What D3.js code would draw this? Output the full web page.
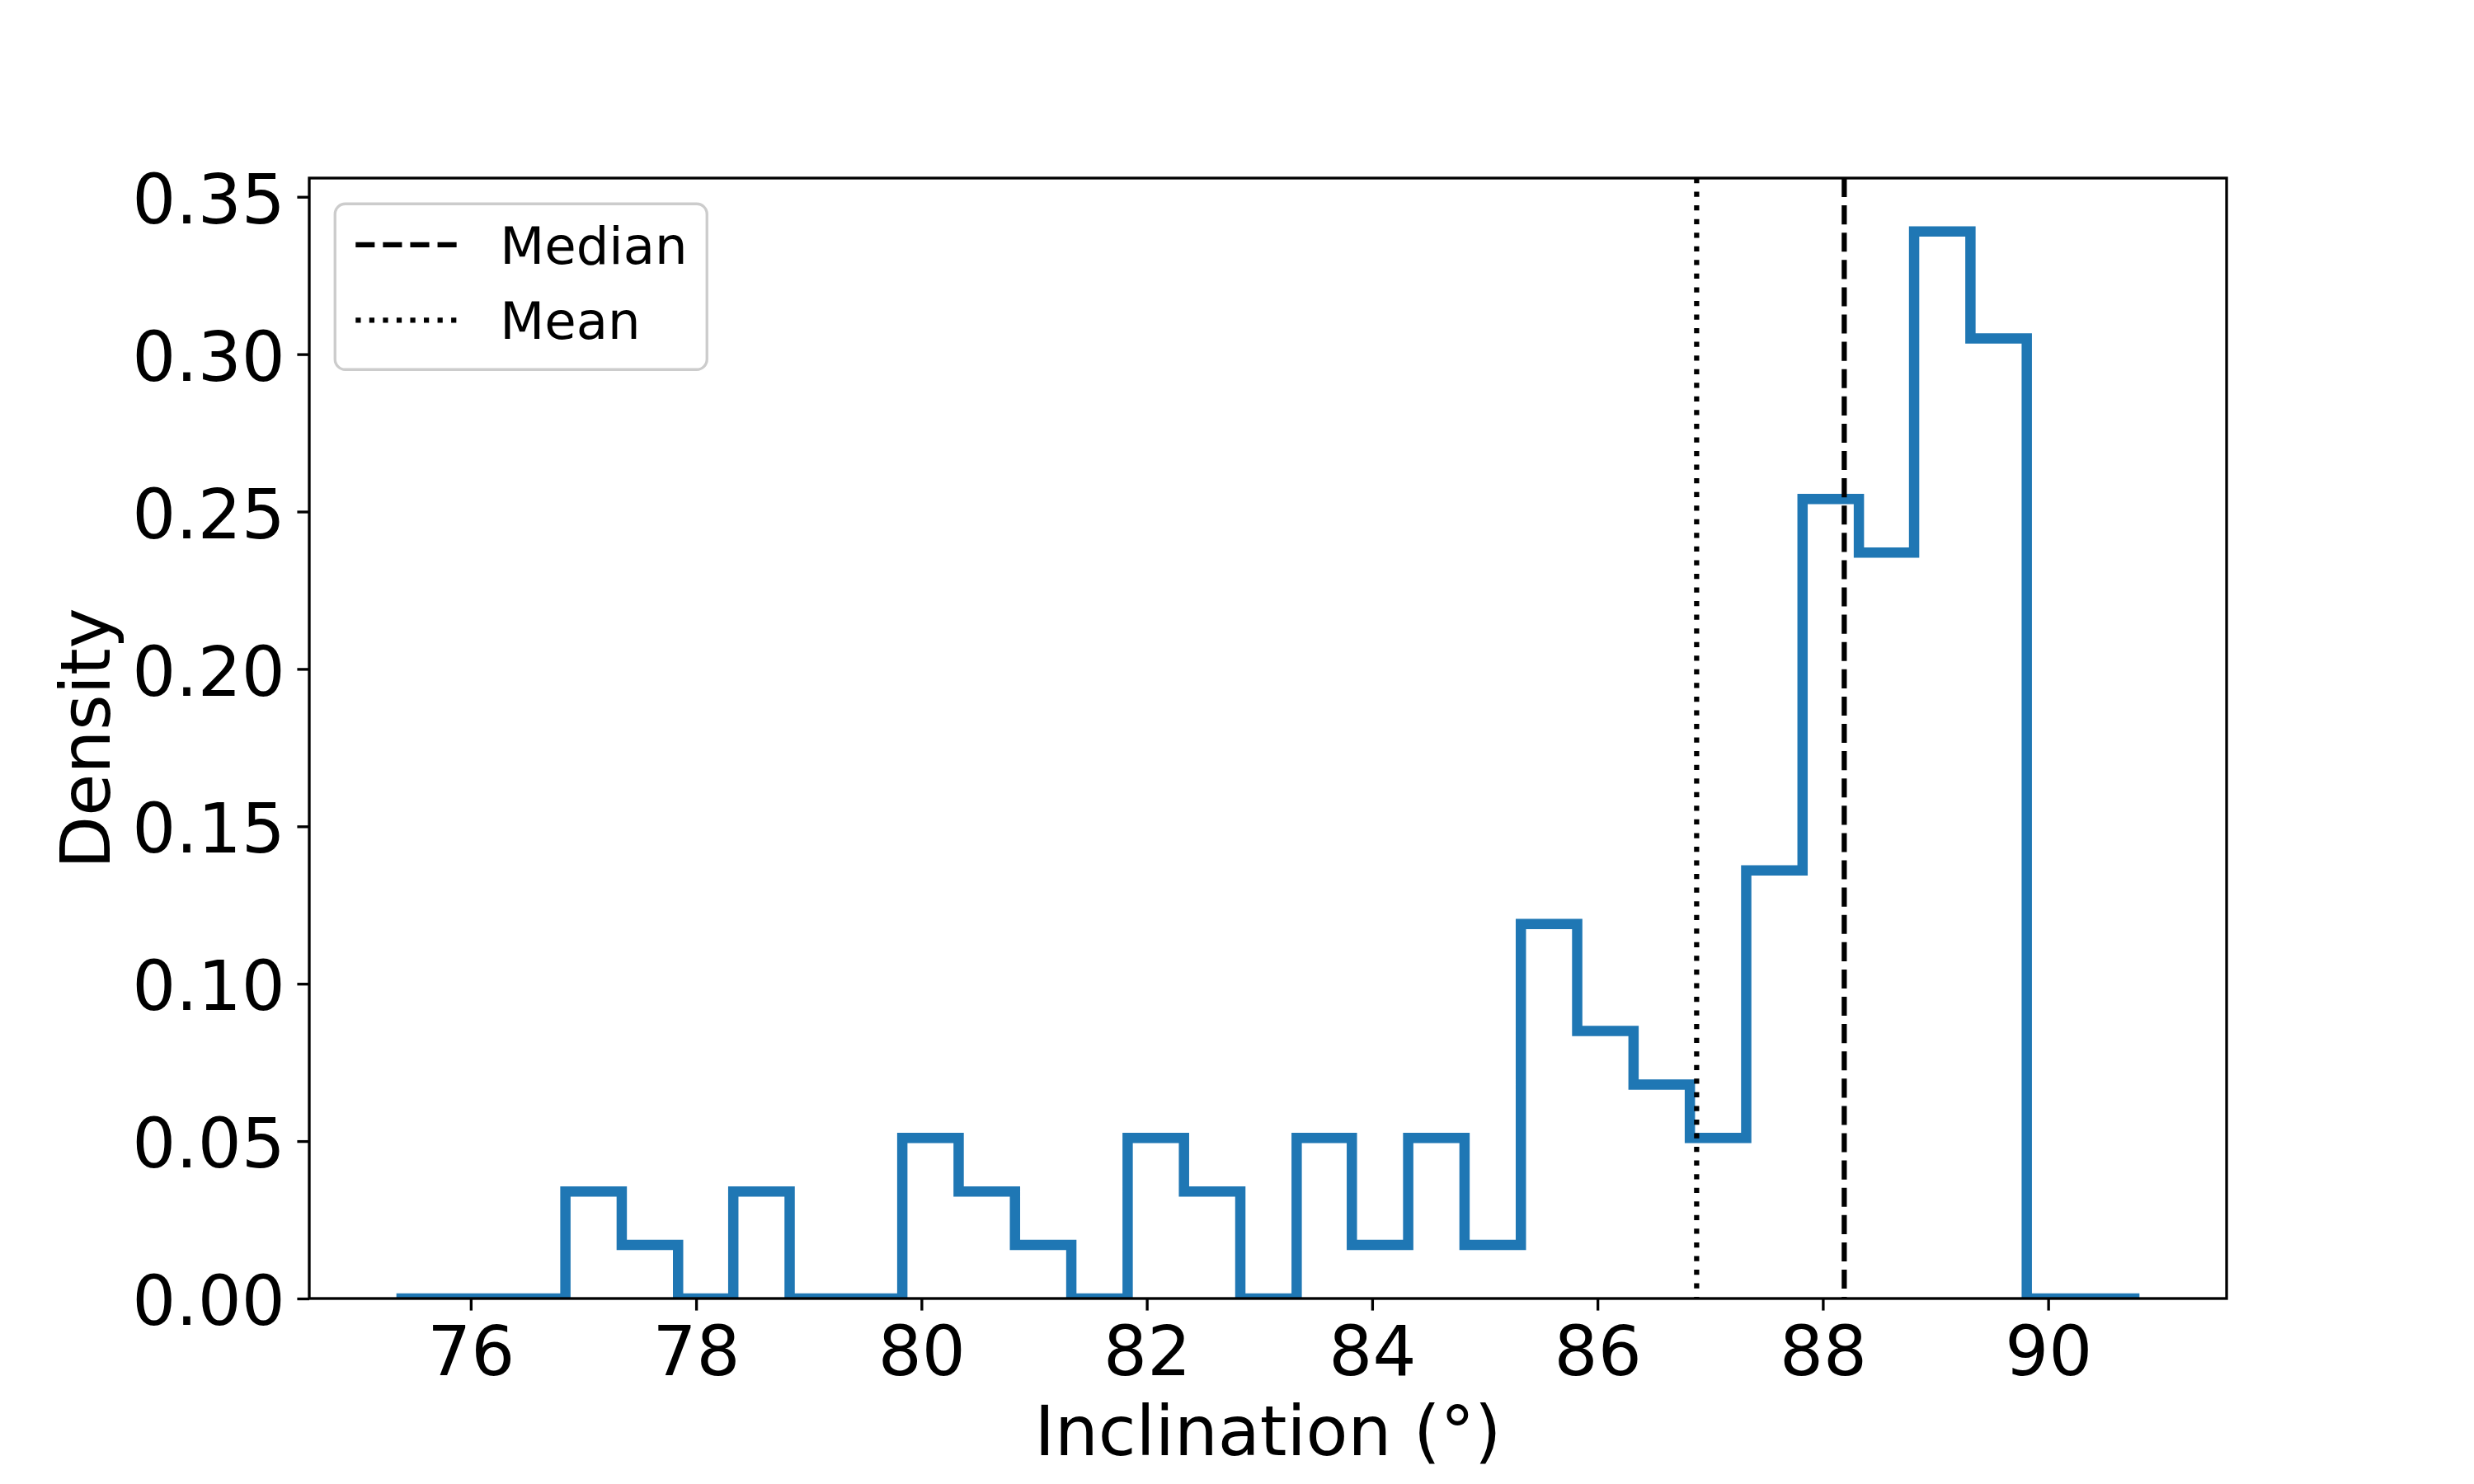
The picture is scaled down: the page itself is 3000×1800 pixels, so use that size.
<!DOCTYPE html>
<html>
<head>
<meta charset="utf-8">
<script src="https://cdn.jsdelivr.net/npm/d3@7"></script>
<style>
  body { margin: 0; background: #fff; }
  text { font-family: "DejaVu Sans", sans-serif; fill: #000; }
</style>
</head>
<body>
<div id="chart"></div>
<script>
// histogram bin edges (degrees) and density per bin
const binEdges = [75.34, 75.84, 76.34, 76.84, 77.34, 77.84, 78.33, 78.83, 79.33, 79.83,
  80.33, 80.83, 81.33, 81.83, 82.33, 82.83, 83.33, 83.82, 84.32, 84.82,
  85.32, 85.82, 86.32, 86.82, 87.32, 87.82, 88.32, 88.81, 89.31, 89.81,
  90.31, 90.81];
const density = [0, 0, 0, 0.034, 0.017, 0, 0.034, 0, 0, 0.051,
  0.034, 0.017, 0, 0.051, 0.034, 0, 0.051, 0.017, 0.051, 0.017,
  0.119, 0.085, 0.068, 0.051, 0.136, 0.254, 0.237, 0.339, 0.305, 0,
  0];
const meanValue = 86.88;
const medianValue = 88.19;
const xTicks = [76, 78, 80, 82, 84, 86, 88, 90];
const yTicks = [0, 0.05, 0.10, 0.15, 0.20, 0.25, 0.30, 0.35];
const legendItems = [
  { label: "Median", dash: "23.1,10" },
  { label: "Mean", dash: "6.25,10.3" }
];

const W = 3000, H = 1800;
const margin = { top: 216, right: 300, bottom: 225, left: 375 };
const pw = W - margin.left - margin.right;
const ph = H - margin.top - margin.bottom;

const pt = 300 / 72;          // matplotlib points -> px at 300 dpi
const fs = 20 * pt;           // tick / axis label size
const legendFs = 15 * pt;

const svg = d3.select("#chart").append("svg")
    .attr("width", W)
    .attr("height", H);

const g = svg.append("g")
    .attr("transform", `translate(${margin.left},${margin.top})`);

const lo = binEdges[0], hi = binEdges[binEdges.length - 1];
const pad = (hi - lo) * 0.05;
const x = d3.scaleLinear().domain([lo - pad, hi + pad]).range([0, pw]);
const y = d3.scaleLinear().domain([0, d3.max(density) * 1.05]).range([ph, 0]);

g.append("clipPath").attr("id", "clip")
  .append("rect").attr("width", pw).attr("height", ph);

// step outline
const pts = [[binEdges[0], 0]];
density.forEach((d, i) => {
    pts.push([binEdges[i], d]);
    pts.push([binEdges[i + 1], d]);
});
pts.push([hi, 0]);

const line = d3.line().x(d => x(d[0])).y(d => y(d[1]));

g.append("path")
    .datum(pts)
    .attr("clip-path", "url(#clip)")
    .attr("d", line)
    .attr("fill", "none")
    .attr("stroke", "#1f77b4")
    .attr("stroke-width", 3 * pt)
    .attr("stroke-linejoin", "miter");

// median / mean lines
[[medianValue, legendItems[0].dash], [meanValue, legendItems[1].dash]].forEach(([v, dash]) => {
    g.append("line")
        .attr("x1", x(v)).attr("x2", x(v))
        .attr("y1", 0).attr("y2", ph)
        .attr("stroke", "#000")
        .attr("stroke-width", 1.5 * pt)
        .attr("stroke-dasharray", dash);
});

// axes
const xAxis = g.append("g")
    .attr("transform", `translate(0,${ph})`)
    .call(d3.axisBottom(x).tickValues(xTicks).tickSize(3.5 * pt).tickSizeOuter(0).tickPadding(3.5 * pt));
const yAxis = g.append("g")
    .call(d3.axisLeft(y).tickValues(yTicks).tickFormat(d3.format(".2f"))
        .tickSize(3.5 * pt).tickSizeOuter(0).tickPadding(3.5 * pt));

[xAxis, yAxis].forEach(a => {
    a.select(".domain").remove();
    a.selectAll("line").attr("stroke", "#000").attr("stroke-width", 0.8 * pt);
    a.selectAll("text").attr("font-size", fs).attr("font-family", "DejaVu Sans");
});
xAxis.selectAll("text").attr("dy", "0.77em");
yAxis.selectAll("text").attr("dy", "0.38em");

// spines
g.append("rect")
    .attr("width", pw).attr("height", ph)
    .attr("fill", "none")
    .attr("stroke", "#000")
    .attr("stroke-width", 0.8 * pt);

// axis labels
svg.append("text")
    .attr("x", margin.left + pw / 2)
    .attr("y", 1765)
    .attr("text-anchor", "middle")
    .attr("font-size", fs)
    .text("Inclination (°)");

svg.append("text")
    .attr("transform", `translate(133,${margin.top + ph / 2}) rotate(-90)`)
    .attr("text-anchor", "middle")
    .attr("font-size", fs)
    .text("Density");

// legend
const lg = g.append("g").attr("transform", `translate(${0.5 * legendFs},${0.5 * legendFs})`);
lg.append("rect")
    .attr("width", 451).attr("height", 201)
    .attr("rx", 0.2 * legendFs)
    .attr("fill", "#fff").attr("fill-opacity", 0.8)
    .attr("stroke", "#cccccc").attr("stroke-width", 0.8 * pt);

const rowY = [49.5, 141];
legendItems.forEach((d, i) => {
    lg.append("line")
        .attr("x1", 0.4 * legendFs).attr("x2", 2.4 * legendFs)
        .attr("y1", rowY[i]).attr("y2", rowY[i])
        .attr("stroke", "#000")
        .attr("stroke-width", 1.5 * pt)
        .attr("stroke-dasharray", d.dash);
    lg.append("text")
        .attr("x", 3.2 * legendFs)
        .attr("y", rowY[i] + 23)
        .attr("font-size", legendFs)
        .text(d.label);
});
</script>
</body>
</html>
